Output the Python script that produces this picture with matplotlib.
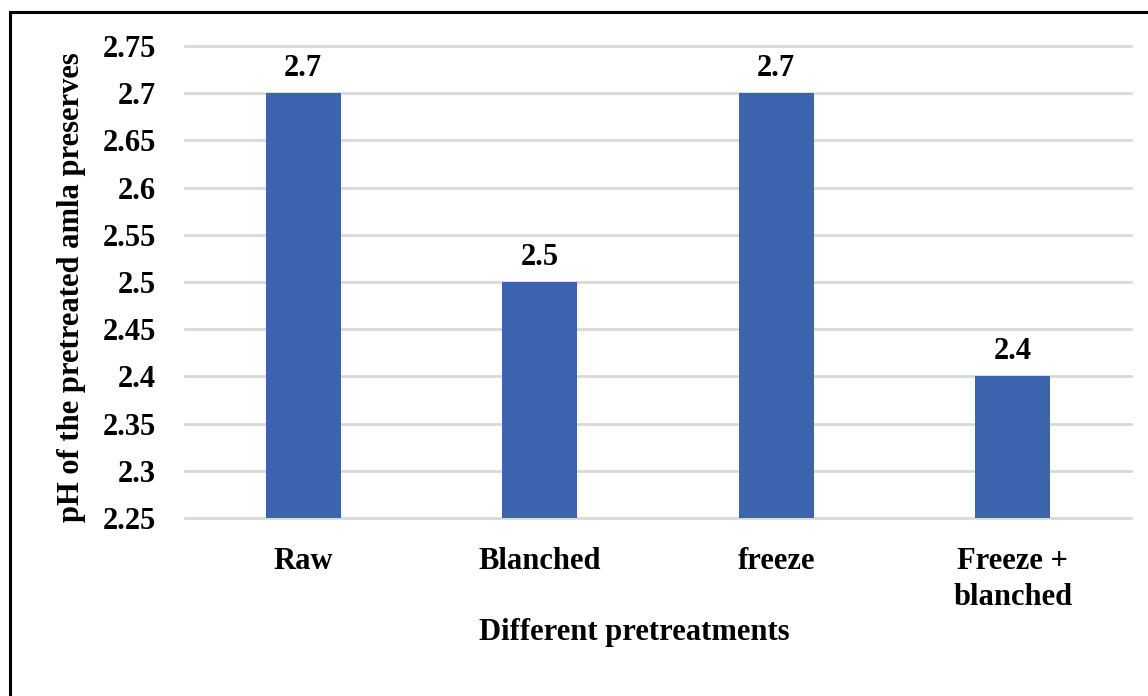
import matplotlib.pyplot as plt
from matplotlib.patches import Rectangle

categories = ["Raw", "Blanched", "freeze", "Freeze +\nblanched"]
ph_values = [2.7, 2.5, 2.7, 2.4]
value_labels = ["2.7", "2.5", "2.7", "2.4"]
y_ticks = [2.25, 2.3, 2.35, 2.4, 2.45, 2.5, 2.55, 2.6, 2.65, 2.7, 2.75]
y_tick_labels = ["2.25", "2.3", "2.35", "2.4", "2.45", "2.5", "2.55", "2.6", "2.65", "2.7", "2.75"]

plt.rcParams['font.family'] = ['Liberation Serif', 'DejaVu Serif']
plt.rcParams['font.weight'] = 'bold'

FS = 22
W, H = 1148, 696
fig = plt.figure(figsize=(W / 100, H / 100), dpi=100)
ax = fig.add_axes([185 / W, 1 - 518 / H, (1131 - 185) / W, (518 - 46) / H])

x = list(range(len(categories)))
ax.bar(x, [v - 2.25 for v in ph_values], bottom=2.25, width=0.317,
       color="#3C63AE", zorder=3)

for xi, v, lab in zip(x, ph_values, value_labels):
    ax.text(xi, v + 0.011, lab, ha="center", va="bottom",
            fontsize=FS, fontweight="bold", zorder=4)

ax.set_xlim(-0.5, len(categories) - 0.5)
ax.set_ylim(2.25, 2.75)
ax.set_yticks(y_ticks)
ax.set_yticklabels(y_tick_labels, fontsize=FS, fontweight="bold")
ax.set_xticks(x)
ax.set_xticklabels(categories, fontsize=FS, fontweight="bold", linespacing=1.3)
ax.tick_params(axis="y", length=0, pad=21)
ax.tick_params(axis="x", length=0, pad=21)

ax.yaxis.grid(True, color="#D9D9D9", linewidth=2, zorder=0)
for gl in ax.get_ygridlines():
    gl.set_clip_on(False)
ax.set_axisbelow(True)
for s in ax.spines.values():
    s.set_visible(False)

ax.set_xlabel("Different pretreatments", fontsize=FS, fontweight="bold")
ax.xaxis.set_label_coords(0.475, -0.243)
ax.set_ylabel("pH of the pretreated amla preserves", fontsize=FS,
              fontweight="bold")
ax.yaxis.set_label_coords(-0.12, 0.49)
ax.yaxis.label.set_verticalalignment("center")
ax.xaxis.label.set_verticalalignment("center")

# Frame around the figure (open on the right and bottom edges)
fig.patches.append(Rectangle((10 / W, -0.05), 1.1, 1 - 12 / H + 0.05,
                             transform=fig.transFigure, fill=False,
                             edgecolor="black", linewidth=2.2))

fig.savefig("out.png", dpi=100)
